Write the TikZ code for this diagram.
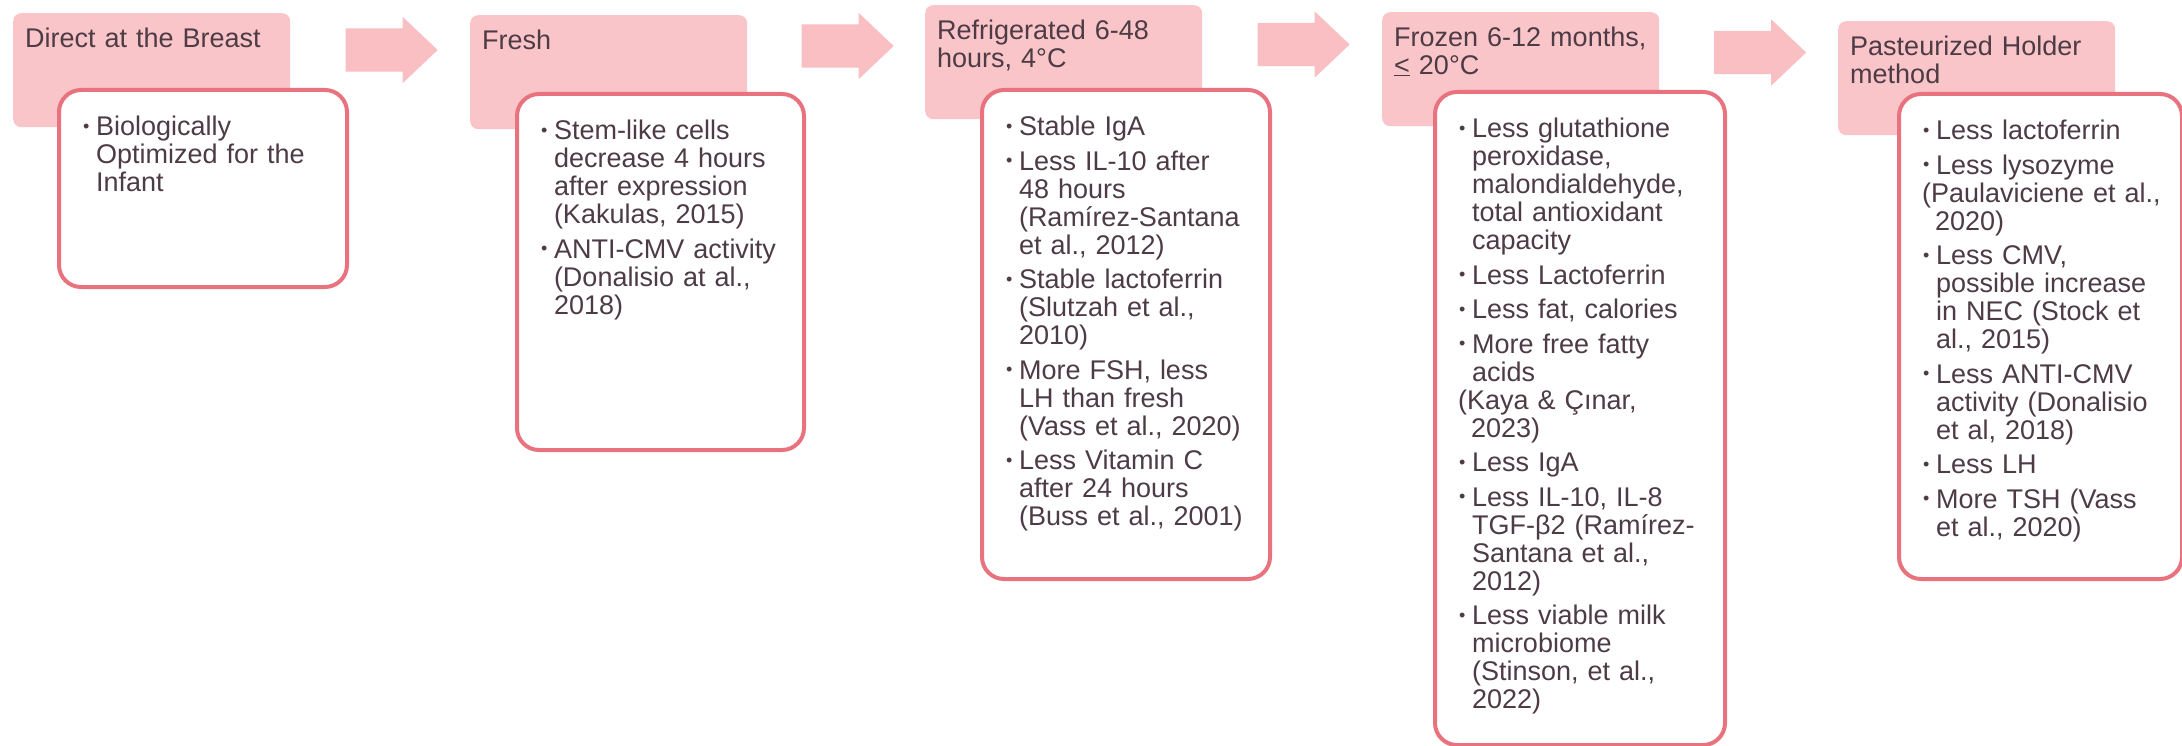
\documentclass[tikz,border=0pt]{standalone}
\usepackage{fontspec}
\setmainfont{Liberation Sans}
\usetikzlibrary{shapes.arrows, positioning, calc}

\definecolor{stagefill}{HTML}{F9C5C8}
\definecolor{arrowfill}{HTML}{F9BFC3}
\definecolor{boxline}{HTML}{E8737F}
\definecolor{textdark}{HTML}{4D3B45}

\newcommand{\bodyfont}{\fontsize{27}{28}\selectfont}
% bullet paragraph and plain (continued) paragraph
\newcommand{\bitem}{\setlength{\parskip}{6.5pt}\leftskip=24pt\hangindent=13pt\hangafter=1%
  \makebox[13pt][l]{\raisebox{3.5pt}{\fontsize{18}{18}\selectfont\textbullet}}}
\newcommand{\citem}{\setlength{\parskip}{0pt}\leftskip=23pt\hangindent=13pt\hangafter=1}

\begin{document}
\begin{tikzpicture}[
        x=1pt, y=-1pt,
        stage/.style={anchor=north west, fill=stagefill, rounded corners=8pt, inner xsep=12pt, inner ysep=0pt, text width=253pt, align=left, text height=34pt, text depth=80pt, font=\bodyfont, text=textdark},
        infobox/.style={anchor=north west, draw=boxline, line width=4pt, fill=white, rounded corners=22pt, inner sep=0pt, align=left, text height=46pt, font=\bodyfont, text=textdark},
        flowarrow/.style={single arrow, fill=arrowfill, draw=none, inner sep=0pt, text height=21.5pt, text depth=21.5pt, minimum height=92pt, single arrow head extend=11.5pt, single arrow tip angle=87}
    ]
    \useasboundingbox (0,0) rectangle (2182,746);

    % Storage stages
    \node[stage] (h1) at (13,13) {Direct at the Breast};
    \node[stage] (h2) at (470,15) {Fresh};
    \node[stage] (h3) at (925,5) {Refrigerated 6-48\newline hours, 4°C};
    \node[stage] (h4) at (1382,12) {Frozen 6-12 months,\newline \underline{<} 20°C};
    \node[stage] (h5) at (1838,21) {Pasteurized Holder\newline method};

    % Arrows between stages
    \foreach \i/\j in {1/2,2/3,3/4,4/5}
        \node[flowarrow] (a\i) at ($(h\i.north east)!0.5!(h\j.north west) + (0,36)$) {};

    % Effects
    \node[infobox, text width=288pt, text depth=151pt] (b1) at (57,88) {%
        \bitem Biologically\newline Optimized for the\newline Infant\par};
    \node[infobox, text width=287pt, text depth=310pt] (b2) at (515,92) {%
        \bitem Stem-like cells\newline decrease 4 hours\newline after expression\newline (Kakulas, 2015)\par
        \bitem ANTI-CMV activity\newline (Donalisio at al.,\newline 2018)\par};
    \node[infobox, text width=288pt, text depth=443pt] (b3) at (980,88) {%
        \bitem Stable IgA\par
        \bitem Less IL-10 after\newline 48 hours\newline (Ramírez-Santana\newline et al., 2012)\par
        \bitem Stable lactoferrin\newline (Slutzah et al.,\newline 2010)\par
        \bitem More FSH, less\newline LH than fresh\newline (Vass et al., 2020)\par
        \bitem Less Vitamin C\newline after 24 hours\newline (Buss et al., 2001)\par};
    \node[infobox, text width=290pt, text depth=607pt] (b4) at (1433,90) {%
        \bitem Less glutathione\newline peroxidase,\newline malondialdehyde,\newline total antioxidant\newline capacity\par
        \bitem Less Lactoferrin\par
        \bitem Less fat, calories\par
        \bitem More free fatty\newline acids\par
        \citem (Kaya \& Çınar,\newline 2023)\par
        \bitem Less IgA\par
        \bitem Less IL-10, IL-8\newline TGF-β2 (Ramírez-\newline Santana et al.,\newline 2012)\par
        \bitem Less viable milk\newline microbiome\newline (Stinson, et al.,\newline 2022)\par};
    \node[infobox, text width=283pt, text depth=439pt] (b5) at (1897,92) {%
        \bitem Less lactoferrin\par
        \bitem Less lysozyme\par
        \citem (Paulaviciene et al.,\newline 2020)\par
        \bitem Less CMV,\newline possible increase\newline in NEC (Stock et\newline al., 2015)\par
        \bitem Less ANTI-CMV\newline activity (Donalisio\newline et al, 2018)\par
        \bitem Less LH\par
        \bitem More TSH (Vass\newline et al., 2020)\par};

\end{tikzpicture}
\end{document}
